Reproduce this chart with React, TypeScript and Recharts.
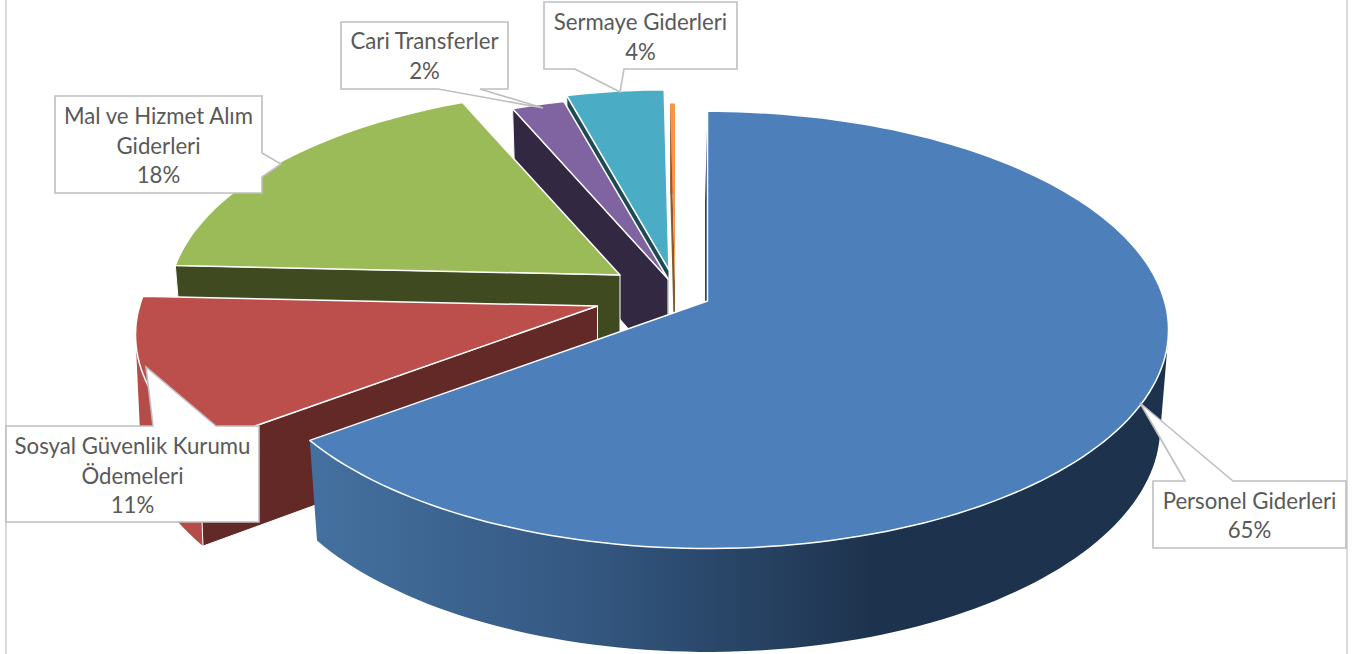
import React from 'react';
import { PieChart, Pie } from 'recharts';

// listed back to front, the pie runs anticlockwise from the top so paint order works out
const categories = ['Diğer', 'Sermaye Giderleri', 'Cari Transferler', 'Mal ve Hizmet Alım Giderleri', 'Sosyal Güvenlik Kurumu Ödemeleri', 'Personel Giderleri'];
const shares = [0.2, 4.08, 2.17, 17.83, 10.92, 64.8];
const fills = ['#f79646', '#4bacc6', '#8064a2', '#9bbb59', '#bc4f4c', '#4d7fbb'];

const tableData = categories.map((name, i) => ({ name, value: shares[i], fill: fills[i] }));

const CX = 707.5;
const CY = 301;
const RX = 457;
const FLATTEN = 0.47;
const PERSPECTIVE = 0.132;

// explode offset from pie centre and shrink of the far slices
const explode: Record<string, { dx: number; dy: number; k: number; low: number; side: string; rim: string }> = {
  'Diğer': { dx: -32.5, dy: -17, k: 0.95, low: 0.982, side: '#8a5a2e', rim: '#c97a38' },
  'Sermaye Giderleri': { dx: -38.5, dy: -31, k: 0.95, low: 0.982, side: '#1e4a56', rim: '#3c8a9e' },
  'Cari Transferler': { dx: -39.5, dy: -22, k: 0.967, low: 0.982, side: '#332842', rim: '#665082' },
  'Mal ve Hizmet Alım Giderleri': { dx: -87.5, dy: -26, k: 0.98, low: 0.982, side: '#3f4a21', rim: '#7c9647' },
  'Sosyal Güvenlik Kurumu Ödemeleri': { dx: -110, dy: 5, k: 1.002, low: 0.99, side: '#632927', rim: '#b64c49' },
  'Personel Giderleri': { dx: 0, dy: 0, k: 1, low: 0.982, side: '#2c4770', rim: 'url(#blueRim)' },
};

const callouts: Record<string, { box: number[]; pointer: number[][]; lines: string[]; baseline: number[] }> = {
  'Personel Giderleri': {
    box: [1153, 481, 1346, 548],
    pointer: [[1233, 481], [1140, 403], [1185, 481]],
    lines: ['Personel Giderleri'],
    baseline: [509, 538],
  },
  'Sosyal Güvenlik Kurumu Ödemeleri': {
    box: [6, 426, 259, 522],
    pointer: [[216, 426], [146, 367], [153, 426]],
    lines: ['Sosyal Güvenlik Kurumu', 'Ödemeleri'],
    baseline: [454, 484, 513],
  },
  'Mal ve Hizmet Alım Giderleri': {
    box: [55, 96, 262, 193],
    pointer: [[262, 177], [281, 164], [262, 153]],
    lines: ['Mal ve Hizmet Alım', 'Giderleri'],
    baseline: [124, 154, 183],
  },
  'Cari Transferler': {
    box: [341, 22, 508, 89],
    pointer: [[480, 89], [543, 108], [438, 89]],
    lines: ['Cari Transferler'],
    baseline: [49, 79],
  },
  'Sermaye Giderleri': {
    box: [544, 2, 737, 69],
    pointer: [[624, 69], [620, 92], [575, 69]],
    lines: ['Sermaye Giderleri'],
    baseline: [30, 60],
  },
};

const toPath = (pts: number[][]) => 'M' + pts.map((p) => `${p[0].toFixed(1)},${p[1].toFixed(1)}`).join('L') + 'Z';

// same winding for every quad, otherwise the fold at the silhouette punches holes
const wound = (pts: number[][]) => {
  let area = 0;
  pts.forEach((p, i) => {
    const q = pts[(i + 1) % pts.length];
    area += p[0] * q[1] - q[0] * p[1];
  });
  return area < 0 ? pts.slice().reverse() : pts;
};

const SliceShape = (props: any) => {
  const { cx, cy, outerRadius, startAngle, endAngle, fill, name } = props;
  const cfg = explode[name];
  if (!cfg) return null;
  const ry = outerRadius * FLATTEN;
  const ax = cx + cfg.dx;
  const ay = cy + cfg.dy;

  // recharts angle -> clockwise from top, then tilted circle with a little perspective
  const project = (deg: number) => {
    const t = (deg * Math.PI) / 180;
    const u = Math.sin(t);
    const v = Math.cos(t);
    const s = cfg.k / (1 + PERSPECTIVE * v);
    return [ax + outerRadius * u * s, ay - ry * v * s];
  };
  const lower = (p: number[]) => [ax + (p[0] - ax) * cfg.low, p[1] + 96 + (p[1] - 300) * 0.03];

  let from = 90 - endAngle;
  let to = 90 - startAngle;
  if (from < 0) {
    from += 360;
    to += 360;
  }
  const steps = Math.max(2, Math.ceil((to - from) / 1.5));
  const arc: number[][] = [];
  for (let i = 0; i <= steps; i++) arc.push(project(from + ((to - from) * i) / steps));
  const apex = [ax, ay];
  const lowArc = arc.map(lower);
  const isBlue = name === 'Personel Giderleri';
  const thin = to - from < 2;

  const first = arc[0];
  const last = arc[arc.length - 1];
  // sliver of the back wall that shows left of the big slice
  const lean = isBlue ? -2.5 : 0;
  const lowFirst = lower(first);
  const lowApex = lower(apex);
  const rimPath = arc
    .slice(1)
    .map((p, i) => toPath(wound([arc[i], p, lowArc[i + 1], lowArc[i]])))
    .join('');
  return (
    <g>
      {!isBlue && <path d={toPath([apex, last, lower(last), lower(apex)])} fill={cfg.side} />}
      <path d={rimPath} fill={cfg.rim} />
      <path
        d={toPath([apex, first, [lowFirst[0] + lean, lowFirst[1]], [lowApex[0] + lean, lowApex[1]]])}
        fill={cfg.side}
        stroke={isBlue ? 'none' : '#fff'}
        strokeWidth={thin ? 0 : 1}
      />
      <path
        d={toPath([apex, ...arc])}
        fill={fill}
        stroke={thin ? 'none' : '#fff'}
        strokeWidth={1.5}
        strokeLinejoin="round"
      />
    </g>
  );
};

const renderCallout = (props: any) => {
  const c = callouts[props.name];
  if (!c) return null;
  const [x0, y0, x1, y1] = c.box;
  const mid = (x0 + x1) / 2;
  const texts = [...c.lines, `${Math.round(props.percent * 100)}%`];
  // outline runs round the box, pointer spliced in on the side it leaves from
  let pts: number[][];
  if (c.pointer[0][0] === x1) {
    pts = [[x0, y0], [x1, y0], ...c.pointer.slice().reverse(), [x1, y1], [x0, y1]];
  } else if (c.pointer[0][1] === y1) {
    pts = [[x0, y0], [x1, y0], [x1, y1], ...c.pointer, [x0, y1]];
  } else {
    pts = [[x0, y0], ...c.pointer.slice().reverse(), [x1, y0], [x1, y1], [x0, y1]];
  }
  return (
    <g key={props.name}>
      <path d={toPath(pts)} fill="#fff" stroke="#bfbfbf" strokeWidth={1.6} />
      {texts.map((t, i) => (
        <text key={i} x={mid} y={c.baseline[i]} textAnchor="middle" fontFamily="Lato, sans-serif" fontSize={22.2} fill="#595959">
          {t}
        </text>
      ))}
    </g>
  );
};

export default function App() {
  return (
    <div style={{ position: 'absolute', left: 0, top: 0, width: 1359, height: 654, background: '#fff' }}>
      <div style={{ position: 'absolute', left: 5, top: 0, width: 2, height: 654, background: '#d9d9d9' }} />
      <div style={{ position: 'absolute', left: 1346, top: 0, width: 2, height: 654, background: '#d9d9d9' }} />
      <div style={{ position: 'absolute', left: 0, top: 0 }}>
        <PieChart width={1359} height={654} margin={{ top: 0, right: 0, bottom: 0, left: 0 }}>
          <defs>
            <linearGradient id="blueRim" gradientUnits="userSpaceOnUse" x1={320} y1={0} x2={880} y2={0}>
              <stop offset="0%" stopColor="#44709f" />
              <stop offset="50%" stopColor="#33567f" />
              <stop offset="100%" stopColor="#1d324c" />
            </linearGradient>
          </defs>
          <Pie
            data={tableData}
            dataKey="value"
            nameKey="name"
            cx={CX}
            cy={CY}
            outerRadius={RX}
            startAngle={90}
            endAngle={450}
            stroke="none"
            shape={SliceShape}
            label={renderCallout}
            labelLine={false}
            isAnimationActive={false}
          />
        </PieChart>
      </div>
    </div>
  );
}
